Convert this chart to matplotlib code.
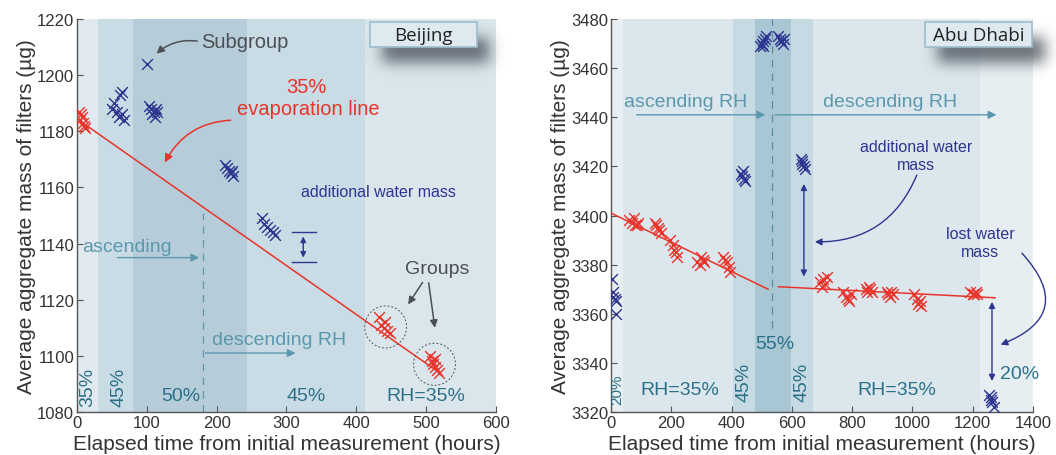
import matplotlib
matplotlib.use("Agg")
import matplotlib.pyplot as plt
from matplotlib.patches import Ellipse, Rectangle
import numpy as np
import math

plt.rcParams['font.family'] = ['Liberation Sans', 'DejaVu Sans']

# ---------------- data: Beijing ----------------
bj_red_x = [3, 5, 6, 7, 8, 10, 12, 432, 436, 440, 441, 444, 448, 505, 508, 510, 512, 513, 516, 519]
bj_red_y = [1187, 1184, 1186, 1185, 1183, 1182, 1181, 1114, 1111, 1110, 1112, 1109, 1108, 1100, 1098, 1097, 1099, 1096, 1095, 1094]
bj_blue_x = [50, 53, 57, 60, 62, 64, 65, 68, 100, 103, 106, 108, 110, 112, 113, 115,
             212, 215, 218, 220, 222, 224, 265, 268, 272, 276, 280, 283]
bj_blue_y = [1188, 1190, 1187, 1185, 1193, 1186, 1194, 1184, 1204, 1189, 1188, 1186, 1187, 1185, 1188, 1187,
             1168, 1167, 1166, 1165, 1166, 1164, 1149, 1147, 1146, 1145, 1144, 1143]
bj_line_x = [14, 519]
bj_line_y = [1182, 1094]
bj_bands = [0, 30, 80, 243, 412, 600]
bj_band_colors = ['#dfe9ef', '#c9dce5', '#b6cdd9', '#c9dce5', '#dae6ec']

# ---------------- data: Abu Dhabi ----------------
ad_red_x = [60, 70, 75, 80, 85, 90, 145, 150, 155, 160, 165, 195, 205, 210, 215, 220,
            285, 295, 300, 305, 310, 370, 378, 385, 390, 395,
            695, 700, 705, 710, 715, 770, 780, 785, 790, 795, 845, 850, 855, 860, 865,
            915, 920, 925, 930, 935, 1005, 1015, 1020, 1025, 1030, 1190, 1200, 1205, 1210, 1215]
ad_red_y = [3398, 3397, 3399, 3396, 3396, 3397, 3397, 3396, 3395, 3394, 3393, 3390, 3388, 3386, 3385, 3383,
            3381, 3380, 3383, 3382, 3381, 3383, 3382, 3381, 3379, 3377,
            3373, 3371, 3374, 3372, 3375, 3369, 3367, 3366, 3365, 3368, 3370, 3369, 3371, 3370, 3369,
            3369, 3368, 3367, 3369, 3368, 3368, 3366, 3364, 3365, 3363, 3369, 3368, 3368, 3369, 3368]
ad_blue_x = [2, 5, 8, 12, 15, 18, 430, 435, 438, 440, 445, 495, 500, 505, 505, 510, 515,
             555, 560, 565, 570, 575, 630, 635, 635, 640, 645, 1255, 1260, 1262, 1265, 1270]
ad_blue_y = [3374, 3369, 3367, 3366, 3365, 3360, 3417, 3416, 3418, 3415, 3414, 3469, 3470, 3471, 3469, 3472, 3473,
             3473, 3472, 3471, 3470, 3472, 3423, 3421, 3422, 3420, 3419, 3327, 3325, 3326, 3324, 3322]
ad_line1_x = [0, 521]
ad_line1_y = [3401, 3370]
ad_line2_x = [555, 1274]
ad_line2_y = [3371, 3366.5]
ad_bands = [0, 40, 405, 478, 597, 670, 1224, 1400]
ad_band_colors = ['#e8eff3', '#dbe7ed', '#c6dae4', '#a8c6d4', '#c6dae4', '#dbe7ed', '#e6eef2']

RED = '#e8342b'
NAVY = '#2d3591'
TEAL_D = '#2b7088'
TEAL_L = '#5b98ad'
GRAY = '#4b5056'

fig = plt.figure(figsize=(10.56, 4.56), dpi=100)
ax1 = fig.add_axes([0.0729, 0.0943, 0.3968, 0.8618])
ax2 = fig.add_axes([0.5786, 0.0943, 0.3996, 0.8618])


def style(ax, xt, yt):
    ax.set_xticks(xt)
    ax.set_yticks(yt)
    for s in ['top', 'right']:
        ax.spines[s].set_visible(False)
    for s in ['left', 'bottom']:
        ax.spines[s].set_color('#555555')
        ax.spines[s].set_linewidth(1.0)
    ax.tick_params(direction='in', length=4, labelsize=12, colors='#555555', labelcolor='#333333', pad=2)
    ax.set_xlabel('Elapsed time from initial measurement (hours)', fontsize=15, color='#333333', labelpad=3)
    ax.set_ylabel('Average aggregate mass of filters (µg)', fontsize=15, color='#333333', labelpad=1)


def bands(ax, edges, colors):
    for a, b, c in zip(edges[:-1], edges[1:], colors):
        ax.axvspan(a, b, color=c, lw=0, zorder=0)


_erf = np.vectorize(math.erf)


def legend_box(ax, x0, x1, y0, y1, text):
    # blurred drop shadow (pixel-based image placed in axes coords)
    bb = ax.get_position()
    W = fig.get_figwidth() * fig.dpi * bb.width
    H = fig.get_figheight() * fig.dpi * bb.height
    pad = 45
    bw = (x1 - x0) * W
    bh = (y1 - y0) * H
    nx = int(bw + 2 * pad)
    ny = int(bh + 2 * pad)
    px = np.arange(nx) + 0.5
    py = np.arange(ny) + 0.5
    s = 10.0
    offx, offy = 12, 16
    fx = 0.5 * (_erf((px - (pad + offx)) / s) - _erf((px - (pad + offx + bw)) / s))
    fy = 0.5 * (_erf((py - (pad + offy)) / s) - _erf((py - (pad + offy + bh)) / s))
    alpha = 0.8 * np.outer(fy, fx)
    img = np.zeros((ny, nx, 4))
    img[..., 0] = 0.28
    img[..., 1] = 0.31
    img[..., 2] = 0.35
    img[..., 3] = alpha
    ex0 = x0 - pad / W
    ex1 = x0 + (nx - pad) / W
    ey1 = y1 + pad / H
    ey0 = y1 - (ny - pad) / H
    ax.imshow(img, extent=[ex0, ex1, ey0, ey1], transform=ax.transAxes, zorder=4,
              clip_on=False, aspect='auto', interpolation='bilinear')
    r = Rectangle((x0, y0), x1 - x0, y1 - y0, transform=ax.transAxes,
                  facecolor='#dfeaf0', edgecolor='#9dbccb', lw=1.2, zorder=5, clip_on=False)
    ax.add_patch(r)
    ax.text((x0 + x1) / 2, (y0 + y1) / 2, text, transform=ax.transAxes, ha='center', va='center',
            fontsize=13.5, color='#222222', family=['Open Sans', 'DejaVu Sans'], zorder=6)


# ================= Beijing =================
style(ax1, range(0, 601, 100), range(1080, 1221, 20))
bands(ax1, bj_bands, bj_band_colors)
ax1.plot(bj_line_x, bj_line_y, color=RED, lw=1.1, zorder=3)
ax1.scatter(bj_red_x, bj_red_y, marker='x', s=60, color=RED, lw=1.0, zorder=4)
ax1.scatter(bj_blue_x, bj_blue_y, marker='x', s=60, color=NAVY, lw=1.0, zorder=4)
ax1.plot([180, 180], [1080, 1151], ls=(0, (6, 5)), color=TEAL_L, lw=0.9, zorder=2)

ax1.text(7, 1139, 'ascending', fontsize=14, color=TEAL_L, va='center', ha='left', zorder=5)
ax1.annotate('', xy=(179, 1135), xytext=(54, 1135),
             arrowprops=dict(arrowstyle='-|>', color=TEAL_L, lw=1.0, mutation_scale=12), zorder=5)
ax1.text(193, 1106, 'descending RH', fontsize=14, color=TEAL_L, va='center', ha='left', zorder=5)
ax1.annotate('', xy=(317, 1101), xytext=(180, 1101),
             arrowprops=dict(arrowstyle='-|>', color=TEAL_L, lw=1.0, mutation_scale=12), zorder=5)

ax1.text(16, 1089, '35%', fontsize=14, color=TEAL_D, rotation=90, ha='center', va='center')
ax1.text(60, 1089, '45%', fontsize=14, color=TEAL_D, rotation=90, ha='center', va='center')
ax1.text(148, 1086, '50%', fontsize=14, color=TEAL_D, ha='center', va='center')
ax1.text(328, 1086, '45%', fontsize=14, color=TEAL_D, ha='center', va='center')
ax1.text(499, 1086, 'RH=35%', fontsize=14, color=TEAL_D, ha='center', va='center')

ax1.text(240, 1212, 'Subgroup', fontsize=14.5, color=GRAY, ha='center', va='center')
ax1.annotate('', xy=(111, 1207), xytext=(176, 1212),
             arrowprops=dict(arrowstyle='-|>', color=GRAY, lw=1.1, mutation_scale=11,
                             connectionstyle='arc3,rad=0.25'))

ax1.text(329, 1196, '35%', fontsize=14.5, color=RED, ha='center', va='center')
ax1.text(331, 1188, 'evaporation line', fontsize=14.5, color=RED, ha='center', va='center')
ax1.annotate('', xy=(124, 1168), xytext=(224, 1184),
             arrowprops=dict(arrowstyle='-|>', color=RED, lw=1.1, mutation_scale=12,
                             connectionstyle='arc3,rad=0.3'))

ax1.text(431, 1158.5, 'additional water mass', fontsize=11.5, color=NAVY, ha='center', va='center')
ax1.plot([308, 342], [1144, 1144], color=NAVY, lw=1.0)
ax1.plot([308, 342], [1133.5, 1133.5], color=NAVY, lw=1.0)
ax1.annotate('', xy=(324, 1134), xytext=(324, 1143.5),
             arrowprops=dict(arrowstyle='<|-|>', color=NAVY, lw=1.0, mutation_scale=8))

ax1.text(516, 1131, 'Groups', fontsize=14, color=GRAY, ha='center', va='center')
ax1.annotate('', xy=(472, 1117.5), xytext=(497, 1127),
             arrowprops=dict(arrowstyle='-|>', color=GRAY, lw=1.1, mutation_scale=11))
ax1.annotate('', xy=(513, 1109), xytext=(503, 1127),
             arrowprops=dict(arrowstyle='-|>', color=GRAY, lw=1.1, mutation_scale=11))
ax1.add_patch(Ellipse((442, 1110.3), 60, 15, fill=False, ls=(0, (2, 2)), edgecolor='#555555', lw=0.7, zorder=5))
ax1.add_patch(Ellipse((512, 1097), 60, 15, fill=False, ls=(0, (2, 2)), edgecolor='#555555', lw=0.7, zorder=5))

legend_box(ax1, 0.699, 0.955, 0.929, 0.992, 'Beijing')
ax1.set_xlim(0, 600)
ax1.set_ylim(1080, 1220)

# ================= Abu Dhabi =================
style(ax2, range(0, 1401, 200), range(3320, 3481, 20))
bands(ax2, ad_bands, ad_band_colors)
ax2.plot(ad_line1_x, ad_line1_y, color=RED, lw=1.1, zorder=3)
ax2.plot(ad_line2_x, ad_line2_y, color=RED, lw=1.1, zorder=3)
ax2.scatter(ad_red_x, ad_red_y, marker='x', s=60, color=RED, lw=1.0, zorder=4)
ax2.scatter(ad_blue_x, ad_blue_y, marker='x', s=60, color=NAVY, lw=1.0, zorder=4)
ax2.plot([535, 535], [3354, 3480], ls=(0, (6, 5)), color='#5a8a9c', lw=0.9, zorder=2)

ax2.text(43, 3446.5, 'ascending RH', fontsize=14, color=TEAL_L, va='center', ha='left', zorder=5)
ax2.annotate('', xy=(521, 3441), xytext=(76, 3441),
             arrowprops=dict(arrowstyle='-|>', color=TEAL_L, lw=1.0, mutation_scale=12), zorder=5)
ax2.text(703, 3446.5, 'descending RH', fontsize=14, color=TEAL_L, va='center', ha='left', zorder=5)
ax2.annotate('', xy=(1288, 3441), xytext=(535, 3441),
             arrowprops=dict(arrowstyle='-|>', color=TEAL_L, lw=1.0, mutation_scale=12), zorder=5)

ax2.text(20, 3329.5, '20%', fontsize=11, color=TEAL_D, rotation=90, ha='center', va='center')
ax2.text(229, 3329, 'RH=35%', fontsize=14, color=TEAL_D, ha='center', va='center')
ax2.text(441, 3332.5, '45%', fontsize=14, color=TEAL_D, rotation=90, ha='center', va='center')
ax2.text(544, 3348, '55%', fontsize=14, color=TEAL_D, ha='center', va='center')
ax2.text(633, 3332.5, '45%', fontsize=14, color=TEAL_D, rotation=90, ha='center', va='center')
ax2.text(949, 3329, 'RH=35%', fontsize=14, color=TEAL_D, ha='center', va='center')
ax2.text(1290, 3335.5, '20%', fontsize=14, color=TEAL_D, ha='left', va='center')

ax2.text(1012, 3424.5, 'additional water\nmass', fontsize=11.5, color=NAVY, ha='center', va='center',
         linespacing=1.2)
ax2.annotate('', xy=(667, 3389.3), xytext=(1018, 3417.5),
             arrowprops=dict(arrowstyle='-|>', color=NAVY, lw=1.0, mutation_scale=10,
                             connectionstyle='arc3,rad=-0.35'))
ax2.annotate('', xy=(640, 3374), xytext=(640, 3414),
             arrowprops=dict(arrowstyle='<|-|>', color=NAVY, lw=1.0, mutation_scale=9))

ax2.text(1224, 3389, 'lost water\nmass', fontsize=11.5, color=NAVY, ha='center', va='center',
         linespacing=1.2)
ax2.annotate('', xy=(1284, 3347), xytext=(1357, 3385.5),
             arrowprops=dict(arrowstyle='-|>', color=NAVY, lw=1.0, mutation_scale=10,
                             connectionstyle='arc3,rad=-0.75'), annotation_clip=False)
ax2.annotate('', xy=(1264, 3331.5), xytext=(1264, 3366),
             arrowprops=dict(arrowstyle='<|-|>', color=NAVY, lw=1.0, mutation_scale=9))

legend_box(ax2, 0.744, 0.998, 0.929, 0.992, 'Abu Dhabi')
ax2.set_xlim(0, 1400)
ax2.set_ylim(3320, 3480)

fig.savefig('out.png', dpi=100)
